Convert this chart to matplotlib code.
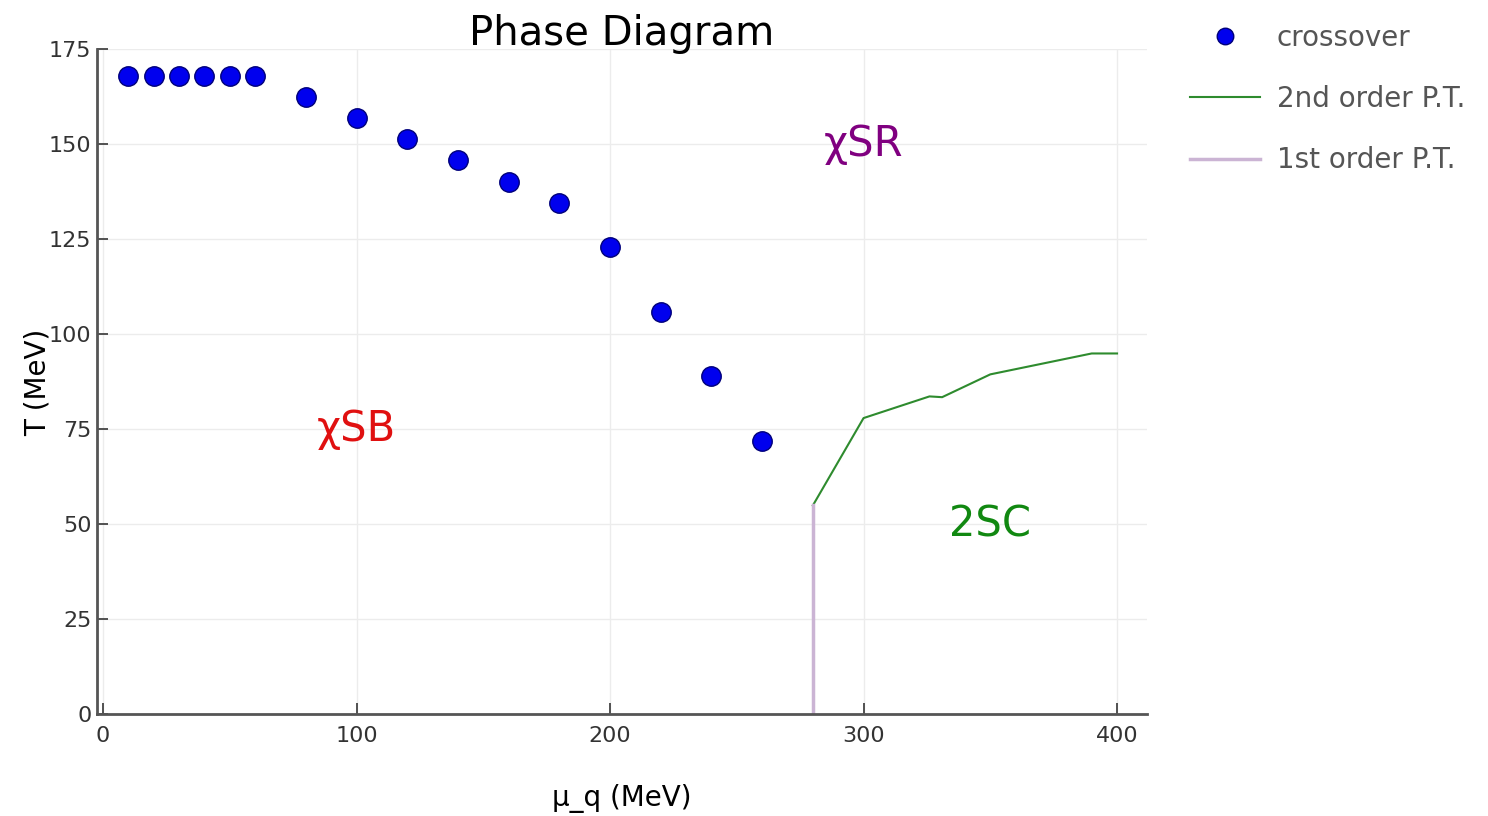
import matplotlib
matplotlib.use('Agg')
from matplotlib import pyplot as plt

# crossover points (mu_q, T)
mu_cross = [10, 20, 30, 40, 50, 60, 80, 100, 120, 140, 160, 180, 200, 220, 240, 260]
T_cross = [168, 168, 168, 168, 168, 168, 162.5, 157, 151.5, 146, 140, 134.5, 123, 106, 89, 72]

# 2nd order phase transition line
mu_2nd = [280, 300, 326, 331, 350, 390, 400]
T_2nd = [55, 78, 83.7, 83.5, 89.5, 95, 95]

# 1st order phase transition line
mu_1st = [280, 280]
T_1st = [0, 55]

plt.rcParams['font.family'] = 'DejaVu Sans'

fig = plt.figure(figsize=(14.88, 8.16), dpi=100)
ax = fig.add_axes([0.0652, 0.1244, 0.7056, 0.8150])

ax.plot(mu_cross, T_cross, 'o', color='#0000ee', markeredgecolor='#00007a',
        markeredgewidth=1, markersize=14, label='crossover', zorder=3)
ax.plot(mu_2nd, T_2nd, color='#2e8b2e', linewidth=1.5, label='2nd order P.T.')
ax.plot(mu_1st, T_1st, color='#cbb4d4', linewidth=2.5, label='1st order P.T.')

# phase labels
ax.text(100, 75, 'χSB', color='#e01010', fontsize=30, ha='center', va='center')
ax.text(300, 150, 'χSR', color='#800080', fontsize=30, ha='center', va='center')
ax.text(350, 50, '2SC', color='#118811', fontsize=30, ha='center', va='center')

ax.set_xlim(-2.4, 411.8)
ax.set_ylim(0, 175)
ax.set_xticks([0, 100, 200, 300, 400])
ax.set_yticks([0, 25, 50, 75, 100, 125, 150, 175])
ax.grid(True, color='#ececec', linewidth=1)
ax.set_axisbelow(True)

for side in ['top', 'right']:
    ax.spines[side].set_visible(False)
for side in ['left', 'bottom']:
    ax.spines[side].set_color('#555555')
    ax.spines[side].set_linewidth(2)

ax.tick_params(axis='both', direction='in', length=8, width=1.3,
               color='#444444', labelcolor='#333333', labelsize=16)
ax.tick_params(axis='x', pad=8)
ax.tick_params(axis='y', pad=4)

# title baseline sits just above the top of the axes
ax.set_title('Phase Diagram', fontsize=29, y=1.007, pad=0)
ax.set_xlabel('μ_q (MeV)', fontsize=20)
ax.set_ylabel('T (MeV)', fontsize=20)
ax.xaxis.set_label_coords(0.5, -0.104)
ax.yaxis.set_label_coords(-0.043, 0.5)

leg = ax.legend(loc='upper left', bbox_to_anchor=(0.80, 0.971),
                bbox_transform=fig.transFigure, frameon=False, fontsize=20,
                borderpad=0, borderaxespad=0, handlelength=2.5,
                handletextpad=0.6, labelspacing=1.2, markerscale=0.85)
for t in leg.get_texts():
    t.set_color('#555555')

fig.savefig('out.png', dpi=100)
